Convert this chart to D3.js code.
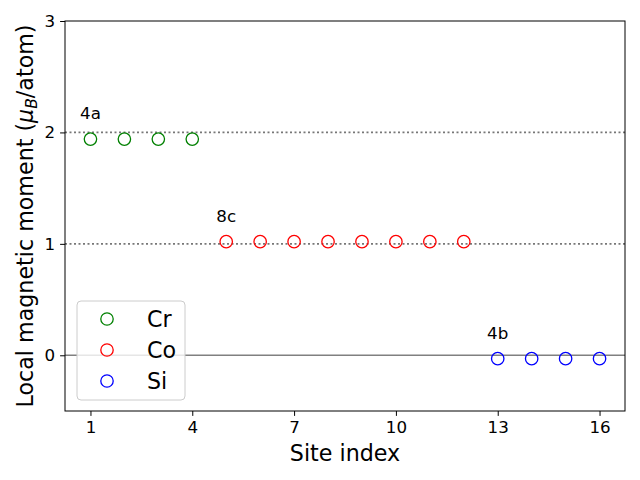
<!DOCTYPE html>
<html><head><meta charset="utf-8">
<script src="https://cdn.jsdelivr.net/npm/d3@7"></script>
<style>body{margin:0;background:#fff}svg{display:block;font-family:"DejaVu Sans",sans-serif}</style>
</head><body>
<svg id="c" width="640" height="480"></svg>
<script>
const crSites = [1, 2, 3, 4];
const crValues = [1.94, 1.94, 1.94, 1.94];
const coSites = [5, 6, 7, 8, 9, 10, 11, 12];
const coValues = [1.02, 1.02, 1.02, 1.02, 1.02, 1.02, 1.02, 1.02];
const siSites = [13, 14, 15, 16];
const siValues = [-0.03, -0.03, -0.03, -0.03];
const xTicks = [1, 4, 7, 10, 13, 16];
const yTicks = [0, 1, 2, 3];
const refLines = [2, 1];
const siteLabels = [{t: "4a", x: 1, y: 1.94}, {t: "8c", x: 5, y: 1.02}, {t: "4b", x: 13, y: -0.03}];
const seriesNames = ["Cr", "Co", "Si"];
const seriesColors = ["green", "red", "blue"];

const svg = d3.select("#c");
const L = 65, R = 625, T = 21, B = 411;
const x = d3.scaleLinear().domain([0.25, 16.75]).range([L, R]);
const y = d3.scaleLinear().domain([-0.5, 3]).range([B, T]);

// reference lines
svg.selectAll(".ref").data(refLines).enter().append("line")
  .attr("x1", L).attr("x2", R).attr("y1", d => y(d)).attr("y2", d => y(d))
  .attr("stroke", "#777").attr("stroke-width", 1.8).attr("stroke-dasharray", "2,2.5");
svg.append("line").attr("x1", L).attr("x2", R).attr("y1", y(0)).attr("y2", y(0))
  .attr("stroke", "gray").attr("stroke-width", 1.5);

// series
const series = [[crSites, crValues], [coSites, coValues], [siSites, siValues]];
series.forEach((s, i) => {
  svg.append("g").selectAll("circle").data(s[0].map((v, j) => [v, s[1][j]])).enter()
    .append("circle").attr("cx", d => x(d[0])).attr("cy", d => y(d[1])).attr("r", 6.2)
    .attr("fill", "none").attr("stroke", seriesColors[i]).attr("stroke-width", 1.3);
});

// site labels
svg.selectAll(".lab").data(siteLabels).enter().append("text")
  .attr("x", d => x(d.x)).attr("y", d => y(d.y + 0.18))
  .attr("text-anchor", "middle").attr("font-size", 16.7).text(d => d.t);

// axes
const xa = svg.append("g").attr("transform", `translate(0,${B})`)
  .call(d3.axisBottom(x).tickValues(xTicks).tickSize(4.9).tickPadding(4.9).tickFormat(d3.format("d")));
const ya = svg.append("g").attr("transform", `translate(${L},0)`)
  .call(d3.axisLeft(y).tickValues(yTicks).tickSize(4.9).tickPadding(4.9).tickFormat(d3.format("d")));
[xa, ya].forEach(a => {
  a.select(".domain").remove();
  a.selectAll("text").attr("font-size", 16.7).attr("fill", "#000").attr("font-family", "DejaVu Sans");
  a.selectAll("line").attr("stroke", "#000").attr("stroke-width", 1);
});
svg.append("rect").attr("x", L).attr("y", T).attr("width", R - L).attr("height", B - T)
  .attr("fill", "none").attr("stroke", "#000").attr("stroke-width", 1);

// axis labels
svg.append("text").attr("x", (L + R) / 2).attr("y", 461).attr("text-anchor", "middle")
  .attr("font-size", 22.2).text("Site index");
const yl = svg.append("text").attr("transform", `translate(33,${(T + B) / 2}) rotate(-90)`)
  .attr("text-anchor", "middle").attr("font-size", 22.2);
yl.append("tspan").text("Local magnetic moment (");
yl.append("tspan").attr("font-style", "italic").text("μ");
yl.append("tspan").attr("font-style", "italic").attr("font-size", 15.5).attr("dy", 4).text("B");
yl.append("tspan").attr("dy", -4).text("/atom)");

// legend
const lg = svg.append("g");
lg.append("rect").attr("x", 77).attr("y", 301).attr("width", 108).attr("height", 99).attr("rx", 4)
  .attr("fill", "#fff").attr("fill-opacity", 0.8).attr("stroke", "#ccc").attr("stroke-width", 1);
seriesNames.forEach((n, i) => {
  const yy = 319 + i * 31;
  lg.append("circle").attr("cx", 107).attr("cy", yy).attr("r", 6.2)
    .attr("fill", "none").attr("stroke", seriesColors[i]).attr("stroke-width", 1.3);
  lg.append("text").attr("x", 147).attr("y", yy + 7.5).attr("font-size", 22.2).text(n);
});
</script>
</body></html>
